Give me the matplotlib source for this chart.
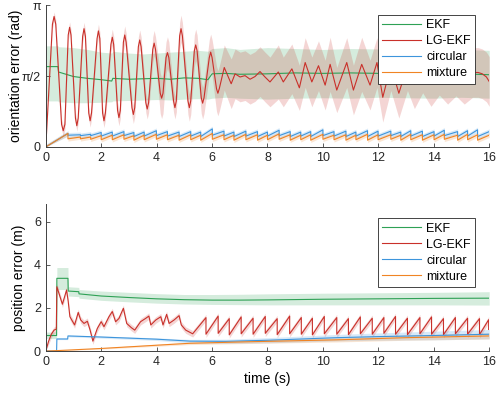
import numpy as np
import matplotlib
matplotlib.use("Agg")
import matplotlib.pyplot as plt

plt.rcParams['font.family'] = ['Liberation Sans', 'DejaVu Sans']

# ---- top panel: orientation error ----
ekf_t = [0, 0.44, 0.46, 1.0, 1.5, 2.0, 2.38, 2.42, 3.0, 3.5, 4.0, 4.5, 5.0, 5.5, 5.85, 6.0,
         6.5, 7.0, 8.0, 9.0, 10.0, 11.0, 12.0, 13.0, 14.0, 15.0, 16.0]
ekf_v = [1.78, 1.78, 1.66, 1.56, 1.52, 1.49, 1.46, 1.52, 1.50, 1.51, 1.52, 1.50, 1.53, 1.52, 1.49, 1.62,
         1.63, 1.61, 1.62, 1.64, 1.63, 1.64, 1.63, 1.62, 1.63, 1.62, 1.60]
ekf_hi = [2.24, 2.24, 2.22, 2.20, 2.16, 2.10, 2.08, 2.12, 2.08, 2.06, 2.08, 2.10, 2.12, 2.14, 2.12, 2.18,
          2.20, 2.16, 2.20, 2.18, 2.16, 2.18, 2.17, 2.15, 2.18, 2.16, 2.14]
ekf_lo = [1.02, 1.02, 1.00, 0.98, 0.98, 0.99, 1.00, 1.02, 1.03, 1.04, 1.05, 1.04, 1.06, 1.07, 1.06, 1.08,
          1.10, 1.08, 1.06, 1.08, 1.09, 1.08, 1.10, 1.09, 1.08, 1.10, 1.08]

# LG-EKF: big oscillation (each extreme with its two shoulders), then the calmer part
lg_t = [0, 0.24, 0.30, 0.36, 0.57, 0.63, 0.69, 0.81, 0.86, 0.91,
        1.07, 1.12, 1.17, 1.33, 1.38, 1.43, 1.55, 1.60, 1.65, 1.85,
        1.90, 1.95, 2.05, 2.10, 2.15, 2.35, 2.40, 2.45, 2.59, 2.64,
        2.69, 2.80, 2.85, 2.90, 3.11, 3.16, 3.21, 3.34, 3.39, 3.44,
        3.61, 3.66, 3.71, 3.86, 3.91, 3.96, 4.13, 4.18, 4.23, 4.34,
        4.39, 4.44, 4.61, 4.66, 4.71, 4.83, 4.88, 4.93, 5.13, 5.18,
        5.23, 5.36, 5.41, 5.46, 5.61, 5.66, 5.71, 5.90, 5.95, 6.00,
        6.16, 6.21, 6.26,
        6.44, 6.69, 6.83, 7.01, 7.19, 7.37, 7.55, 7.73, 7.91, 8.09,
        8.39, 8.57, 8.88, 9.15, 9.36, 9.60, 9.84, 10.08, 10.26, 10.50,
        10.86, 11.10, 11.40, 11.70, 11.95, 12.16, 12.45, 12.74, 13.05, 13.30,
        13.60, 13.90, 14.20, 14.50, 14.80, 15.10, 15.40, 15.60, 15.75, 15.90, 16.0]
lg_v = [0.0, 2.72, 2.89, 2.72, 0.50, 0.36, 0.50, 2.48, 2.65, 2.48,
        0.64, 0.47, 0.64, 2.45, 2.62, 2.45, 0.75, 0.58, 0.75, 2.40,
        2.57, 2.40, 0.75, 0.58, 0.75, 2.27, 2.43, 2.27, 0.81, 0.65,
        0.81, 2.32, 2.48, 2.32, 0.87, 0.72, 0.87, 2.22, 2.37, 2.22,
        0.98, 0.84, 0.98, 2.16, 2.30, 2.16, 1.19, 1.08, 1.19, 1.98,
        2.09, 1.98, 1.02, 0.87, 1.02, 2.46, 2.62, 2.46, 1.02, 0.87,
        1.02, 2.13, 2.26, 2.13, 1.09, 0.97, 1.09, 1.98, 2.10, 1.98,
        1.29, 1.19, 1.29,
        1.76, 1.40, 1.62, 1.55, 1.58, 1.50, 1.56, 1.67, 1.55, 1.44,
        1.66, 1.44, 1.73, 1.31, 1.87, 1.44, 1.80, 1.37, 1.83, 1.26,
        1.87, 1.26, 1.83, 1.37, 1.87, 1.10, 1.80, 1.19, 1.80, 1.40,
        1.75, 1.45, 1.70, 1.50, 1.68, 1.50, 1.65, 1.65, 1.62, 1.55, 1.45]
# spread: one value per extreme of the big oscillation, then one per point
lg_sd_osc = [0.10, 0.12, 0.12, 0.12, 0.14, 0.14, 0.15, 0.15, 0.18, 0.18, 0.20, 0.20,
             0.22, 0.22, 0.28, 0.45, 0.35, 0.25, 0.30, 0.30, 0.35, 0.35, 0.40, 0.50]
lg_sd_late = [0.50, 0.55, 0.55, 0.55, 0.55, 0.55, 0.55, 0.55, 0.55, 0.55,
              0.60, 0.55, 0.55, 0.50, 0.55, 0.55, 0.55, 0.55, 0.60, 0.50,
              0.55, 0.55, 0.60, 0.55, 0.55, 0.55, 0.55, 0.55, 0.55, 0.55,
              0.55, 0.55, 0.55, 0.55, 0.55, 0.55, 0.55, 0.55, 0.55, 0.55, 0.55]

# sawtooth of circular / mixture: drop times, value before drop, value after
saw_t = [0.80, 1.25, 1.62, 2.00, 2.40, 2.82, 3.18, 3.55, 3.99, 4.39, 4.81, 5.23, 5.59,
         6.01, 6.43, 6.79, 7.22, 7.64, 8.00, 8.42, 8.82, 9.20, 9.56, 10.00, 10.40, 10.83,
         11.19, 11.61, 11.99, 12.45, 12.81, 13.17, 13.59, 14.01, 14.38, 14.86, 15.22, 15.58, 16.0]
mix_hi = [0.30, 0.22, 0.22, 0.25, 0.26, 0.27, 0.25, 0.26, 0.28, 0.27, 0.26, 0.27, 0.26,
          0.30, 0.27, 0.26, 0.28, 0.27, 0.26, 0.29, 0.27, 0.26, 0.27, 0.28, 0.26, 0.27,
          0.26, 0.28, 0.27, 0.27, 0.26, 0.28, 0.27, 0.27, 0.28, 0.26, 0.28, 0.27, 0.26]
mix_lo = [0.18, 0.18, 0.17, 0.16, 0.16, 0.17, 0.15, 0.16, 0.17, 0.16, 0.15, 0.16, 0.15,
          0.17, 0.16, 0.15, 0.16, 0.15, 0.16, 0.17, 0.15, 0.16, 0.15, 0.17, 0.16, 0.15,
          0.16, 0.15, 0.16, 0.17, 0.15, 0.16, 0.15, 0.16, 0.17, 0.15, 0.16, 0.15, 0.26]
circ_hi = [0.30, 0.27, 0.28, 0.32, 0.33, 0.34, 0.32, 0.33, 0.36, 0.34, 0.33, 0.34, 0.33,
           0.40, 0.35, 0.33, 0.35, 0.34, 0.33, 0.37, 0.34, 0.33, 0.34, 0.38, 0.34, 0.35,
           0.33, 0.36, 0.35, 0.35, 0.33, 0.36, 0.35, 0.34, 0.37, 0.34, 0.36, 0.38, 0.34]
circ_lo = [0.26, 0.25, 0.25, 0.24, 0.24, 0.25, 0.23, 0.24, 0.25, 0.24, 0.23, 0.24, 0.23,
           0.26, 0.24, 0.23, 0.24, 0.23, 0.24, 0.25, 0.23, 0.24, 0.23, 0.25, 0.24, 0.23,
           0.24, 0.23, 0.24, 0.25, 0.23, 0.24, 0.23, 0.24, 0.25, 0.23, 0.24, 0.23, 0.34]
circ_sd = 0.06
mix_sd = 0.05

# ---- bottom panel: position error ----
ekfb_t = [0, 0.39, 0.40, 0.80, 0.81, 1.19, 1.20, 2, 3, 4, 5, 6, 7, 8, 10, 12, 14, 16]
ekfb_v = [0.72, 0.72, 3.37, 3.37, 2.78, 2.75, 2.65, 2.55, 2.48, 2.42, 2.38, 2.36, 2.36, 2.37,
          2.40, 2.42, 2.44, 2.45]
ekfb_hi = [0.88, 0.88, 3.87, 3.87, 2.98, 2.95, 2.85, 2.78, 2.72, 2.66, 2.62, 2.62, 2.63, 2.65,
           2.68, 2.70, 2.72, 2.75]
ekfb_lo = [0.58, 0.58, 2.85, 2.85, 2.55, 2.52, 2.45, 2.35, 2.28, 2.22, 2.18, 2.16, 2.15, 2.14,
           2.14, 2.14, 2.14, 2.13]

lgb_t = [0, 0.1, 0.2, 0.3, 0.38, 0.40, 0.60, 0.75, 0.81, 0.87, 1.04, 1.17, 1.26, 1.38, 1.50,
         1.60, 1.70, 1.86, 2.00, 2.10, 2.28, 2.40, 2.52, 2.64, 2.80, 2.92, 3.09, 3.21, 3.42,
         3.60, 3.72, 3.79, 3.97, 4.15, 4.23, 4.36, 4.45, 4.63, 4.81, 4.89, 5.05, 5.30]
lgb_v = [0, 0.45, 0.78, 0.97, 1.02, 2.98, 2.17, 2.83, 2.29, 1.59, 1.21, 1.79, 1.44, 1.28, 1.38,
         0.97, 0.46, 1.05, 1.36, 1.13, 1.59, 1.83, 1.36, 1.51, 1.98, 1.28, 1.08, 0.97, 1.36,
         1.51, 1.62, 1.21, 1.44, 1.59, 1.21, 1.70, 1.28, 1.44, 1.64, 1.21, 0.97, 0.80]
# regular teeth after 5.3 s: peak time, peak value, value after drop
lgp_t = [5.78, 6.22, 6.62, 7.05, 7.48, 7.92, 8.35, 8.80, 9.22, 9.62, 10.05, 10.50, 10.92,
         11.35, 11.78, 12.20, 12.62, 13.05, 13.50, 13.92, 14.35, 14.78, 15.22, 15.65, 15.98]
lgp_hi = [1.55, 1.62, 1.50, 1.58, 1.52, 1.60, 1.50, 1.62, 1.55, 1.52, 1.60, 1.55, 1.50,
          1.58, 1.52, 1.55, 1.60, 1.52, 1.55, 1.58, 1.50, 1.55, 1.52, 1.50, 1.45]
lgp_lo = [0.78, 0.82, 0.75, 0.80, 0.78, 0.82, 0.76, 0.80, 0.78, 0.75, 0.80, 0.78, 0.76,
          0.80, 0.78, 0.82, 0.78, 0.76, 0.80, 0.78, 0.76, 0.80, 0.78, 0.76, 1.00]
lgb_sd = 0.15

circb_t = [0, 0.39, 0.40, 0.79, 0.80, 2.0, 4.0, 5.2, 6.5, 8.0, 10.5, 12.0, 14.0, 16.0]
circb_v = [0.0, 0.0, 0.56, 0.56, 0.70, 0.65, 0.55, 0.46, 0.45, 0.50, 0.62, 0.67, 0.72, 0.78]
circb_sd = [0.0, 0.0, 0.03, 0.03, 0.04, 0.05, 0.06, 0.08, 0.10, 0.12, 0.15, 0.17, 0.20, 0.22]

mixb_t = [0, 0.4, 2.0, 4.0, 5.2, 7.3, 10.5, 13.0, 16.0]
mixb_v = [0.0, 0.02, 0.12, 0.27, 0.36, 0.43, 0.52, 0.62, 0.70]
mixb_sd = [0.0, 0.01, 0.03, 0.05, 0.06, 0.08, 0.10, 0.12, 0.14]

labels = ['EKF', 'LG-EKF', 'circular', 'mixture']
colors = ['#2ea155', '#c9302a', '#3d95dc', '#f08424']
x_ticks = [0, 2, 4, 6, 8, 10, 12, 14, 16]


def saw(t, hi, lo, t0=0.0, v0=0.0):
    # turn drop times + before/after values into a polyline
    xs, ys = [t0], [v0]
    for ti, h, l in zip(t, hi, lo):
        xs += [ti, ti]
        ys += [h, l]
    return np.array(xs), np.array(ys)


def band(ax, t, v, lo, hi, c):
    ax.fill_between(t, lo, hi, color=c, alpha=0.2, lw=0)
    return ax.plot(t, v, color=c, lw=0.8)[0]


def style(ax):
    for s in ['top', 'right']:
        ax.spines[s].set_visible(False)
    for s in ['left', 'bottom']:
        ax.spines[s].set_color('#404040')
        ax.spines[s].set_linewidth(0.7)
    ax.tick_params(direction='in', length=3, width=0.6, colors='#404040',
                   labelcolor='#262626', labelsize=9)
    ax.set_xlim(0, 16)
    ax.set_xticks(x_ticks)


fig = plt.figure(figsize=(4.96, 3.94), dpi=100)
ax1 = fig.add_axes([0.0923, 0.627, 0.894, 0.360])
ax2 = fig.add_axes([0.0923, 0.109, 0.894, 0.3725])

# top
h = []
h.append(band(ax1, ekf_t, ekf_v, ekf_lo, ekf_hi, colors[0]))
lt, lv = np.array(lg_t), np.array(lg_v)
ls = np.concatenate([[0.0], np.repeat(lg_sd_osc, 3), lg_sd_late])
h.append(band(ax1, lt, lv, lv - ls, lv + ls, colors[1]))
ct, cv = saw(saw_t, circ_hi, circ_lo)
h.append(band(ax1, ct, cv, np.clip(cv - circ_sd, 0, None), cv + circ_sd, colors[2]))
mt, mv = saw(saw_t, mix_hi, mix_lo)
h.append(band(ax1, mt, mv, np.clip(mv - mix_sd, 0, None), mv + mix_sd, colors[3]))
style(ax1)
ax1.set_ylim(0, np.pi)
ax1.set_yticks([0, np.pi / 2, np.pi])
ax1.set_yticklabels(['0', 'π/2', 'π'])
ax1.set_ylabel('orientation error (rad)', fontsize=10, labelpad=-1)
leg_kw = dict(loc='upper right', bbox_to_anchor=(0.968, 0.93), fontsize=9, fancybox=False,
              framealpha=1, edgecolor='#262626', handlelength=3.15, handletextpad=0.37,
              borderpad=0.35, labelspacing=0.32, borderaxespad=0)
lg1 = ax1.legend(h, labels, **leg_kw)
lg1.get_frame().set_linewidth(0.6)

# bottom
h = []
h.append(band(ax2, ekfb_t, ekfb_v, ekfb_lo, ekfb_hi, colors[0]))
pt, pv = saw(lgp_t, lgp_hi, lgp_lo, lgb_t[-1], lgb_v[-1])
bt = np.concatenate([lgb_t, pt[1:]])
bv = np.concatenate([lgb_v, pv[1:]])
h.append(band(ax2, bt, bv, np.clip(bv - lgb_sd, 0, None), bv + lgb_sd, colors[1]))
cbv, cbs = np.array(circb_v), np.array(circb_sd)
h.append(band(ax2, circb_t, cbv, cbv - cbs, cbv + cbs, colors[2]))
mbv, mbs = np.array(mixb_v), np.array(mixb_sd)
h.append(band(ax2, mixb_t, mbv, mbv - mbs, mbv + mbs, colors[3]))
style(ax2)
ax2.set_ylim(0, 6.8)
ax2.set_yticks([0, 2, 4, 6])
ax2.set_ylabel('position error (m)', fontsize=10, labelpad=6)
ax2.set_xlabel('time (s)', fontsize=10, labelpad=3)
leg_kw['bbox_to_anchor'] = (0.968, 0.904)
lg2 = ax2.legend(h, labels, **leg_kw)
lg2.get_frame().set_linewidth(0.6)

fig.savefig('out.png', dpi=100)
